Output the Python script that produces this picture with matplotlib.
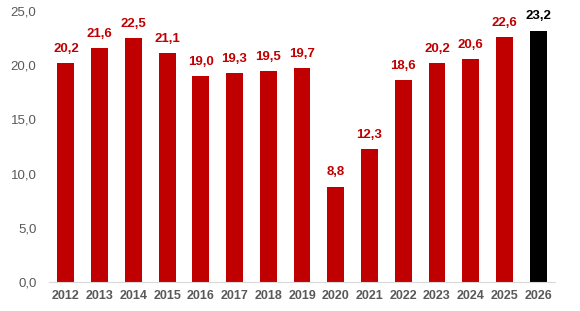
import matplotlib.pyplot as plt
import numpy as np

plt.rcParams["font.family"] = ["Liberation Sans", "DejaVu Sans"]

years = ["2012", "2013", "2014", "2015", "2016", "2017", "2018", "2019",
         "2020", "2021", "2022", "2023", "2024", "2025", "2026"]
values = [20.2, 21.6, 22.5, 21.1, 19.0, 19.3, 19.5, 19.7,
          8.8, 12.3, 18.6, 20.2, 20.6, 22.6, 23.2]

red = "#c00000"
colors = [red] * (len(years) - 1) + ["#000000"]

fig = plt.figure(figsize=(5.8, 3.11), dpi=100)
ax = fig.add_axes([0.0845, 0.0932, 0.8725, 0.8714])

x = np.arange(len(years))
ax.bar(x, values, width=0.5, color=colors)

for xi, v, c in zip(x, values, colors):
    ax.text(xi, v + 0.75, f"{v:.1f}".replace(".", ","), ha="center", va="bottom",
            fontsize=9.5, fontweight="bold", color=c)

ax.set_xlim(-0.5, len(years) - 0.5)
ax.set_ylim(0, 25)
ax.set_yticks(np.arange(0, 26, 5))
ax.set_yticklabels([f"{t:.1f}".replace(".", ",") for t in np.arange(0, 26, 5)])
ax.set_xticks(x)
ax.set_xticklabels(years, fontweight="bold")

ax.tick_params(axis="y", length=0, labelsize=9.5, labelcolor="#595959", pad=9)
ax.tick_params(axis="x", length=0, labelsize=9, labelcolor="#595959", pad=6)

for side in ["top", "right", "left"]:
    ax.spines[side].set_visible(False)
ax.spines["bottom"].set_color("#d9d9d9")

fig.savefig("out.png", dpi=100)
